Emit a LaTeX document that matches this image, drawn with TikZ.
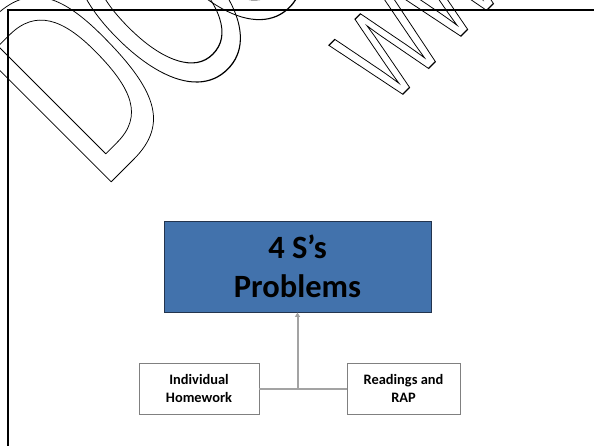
\documentclass[tikz,border=0pt]{standalone}
\usepackage{fontspec}
\setmainfont{Carlito}
\newfontfamily\wmfont{Liberation Sans}
\usetikzlibrary{arrows.meta}
\definecolor{boxblue}{RGB}{66,114,172}
\definecolor{boxedge}{RGB}{35,52,78}
\definecolor{conngray}{RGB}{163,163,163}
\definecolor{smalledge}{RGB}{128,128,128}
\newcommand\wmletter[1]{\special{pdf:literal direct 1 Tr 0.75 w}#1\special{pdf:literal direct 0 Tr}}
\begin{document}
\begin{tikzpicture}[x=1pt,y=1pt,
  mainbox/.style={draw=boxedge, line width=0.9pt, fill=boxblue, minimum width=267pt, minimum height=91pt, inner sep=0pt, align=center, font=\fontsize{32.5}{39}\selectfont\bfseries},
  smallbox/.style={draw=smalledge, line width=0.9pt, fill=white, minimum height=51pt, inner sep=0pt, align=center, font=\fontsize{14.4}{17.8}\selectfont\bfseries},
  conn/.style={draw=conngray, line width=2pt},
  frameline/.style={line width=1.8pt, draw=black},
  wmline/.style={draw=black, line width=0.75pt, line join=round},
  wmbig/.style={transform shape, anchor=base west, inner sep=0pt, outer sep=0pt, font=\wmfont\fontsize{165}{165}\selectfont},
  wmsmall/.style={transform shape, anchor=base west, inner sep=0pt, outer sep=0pt, font=\wmfont\fontsize{87}{87}\selectfont}]
\useasboundingbox (0,0) rectangle (594,-446);
\begin{scope}
\clip (0,0) rectangle (594,-446);
% watermark, large line
\begin{scope}[shift={(102,-191)}, rotate=45, yscale=1.69]
% letter D drawn as an outline
\draw[wmline] (13,0) -- (13,118) -- (45,118)
  .. controls (95,118) and (110,100) .. (110,65)
  .. controls (110,20) and (95,0) .. (45,0) -- cycle;
\draw[wmline] (29,14) -- (29,104) -- (45,104)
  .. controls (82,104) and (94,88) .. (94,62)
  .. controls (94,30) and (82,14) .. (45,14) -- cycle;
\node[wmbig] (wmO) at (111,0) {\wmletter{O}};
\node[wmbig] (wmC) at (199,0) {\wmletter{C}};
\end{scope}
% watermark, small line
\begin{scope}[shift={(390,-107)}, rotate=45, yscale=1.45]
\node[wmsmall] (wmW1) at (0,0) {\wmletter{W}};
\node[wmsmall] (wmW2) at (82.1,0) {\wmletter{W}};
\node[wmsmall] (wmW3) at (164.2,0) {\wmletter{W}};
\end{scope}
% frame
\coordinate (frTR) at (594,-10);
\coordinate (frBL) at (8,-446);
\draw[frameline] (frTR) -| (frBL);
\end{scope}
% diagram
\node[mainbox] (goal) at (297.5,-266.5) {4 S’s\\Problems};
\node[smallbox, minimum width=120pt] (hw) at (199,-388.5) {Individual\\Homework};
\node[smallbox, minimum width=113pt] (rap) at (403.5,-388.5) {Readings and\\RAP};
\coordinate (junc) at (goal.south |- hw.east);
\draw[conn] (hw.east) -- (rap.west);
\draw[conn, -{Triangle[length=4.5pt,width=5pt]}] (junc) -- (goal.south);
\end{tikzpicture}
\end{document}
